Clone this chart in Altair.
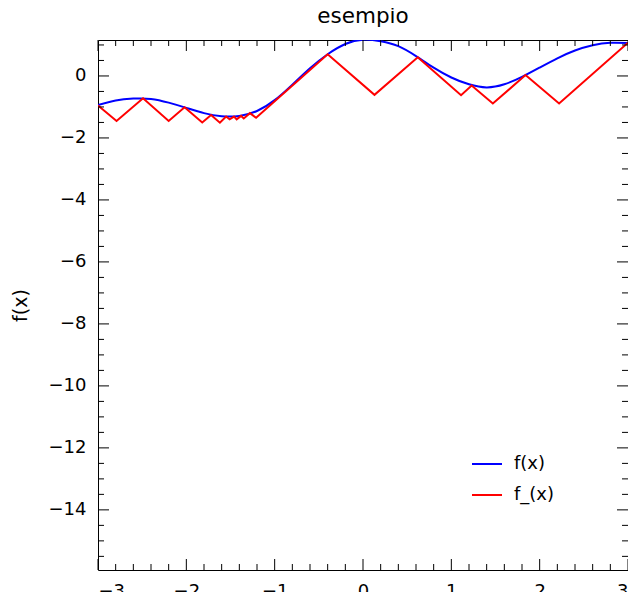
import altair as alt
import pandas as pd

# blue curve f(x)
blue_x = [-3.0, -2.8, -2.6, -2.4, -2.2, -2.0, -1.8, -1.6, -1.4, -1.2, -1.0, -0.8, -0.6,
          -0.4, -0.2, 0.0, 0.2, 0.4, 0.6, 0.8, 1.0, 1.2, 1.4, 1.6, 1.8, 2.0, 2.2, 2.4,
          2.6, 2.8, 3.0]
blue_y = [-0.94, -0.79, -0.73, -0.74, -0.86, -1.03, -1.20, -1.30, -1.29, -1.13, -0.78,
          -0.28, 0.25, 0.70, 1.03, 1.17, 1.12, 0.96, 0.64, 0.27, -0.05, -0.27, -0.37,
          -0.27, -0.03, 0.27, 0.57, 0.82, 0.99, 1.07, 1.06]

# red piecewise-linear f_(x)
red_x = [-3.0, -2.79, -2.49, -2.20, -2.02, -1.82, -1.72, -1.62, -1.55, -1.51, -1.46, -1.43,
         -1.38, -1.35, -1.28, -1.21, -0.40, 0.13, 0.62, 1.11, 1.23, 1.47, 1.84, 2.22, 3.0]
red_y = [-0.95, -1.45, -0.72, -1.45, -1.01, -1.50, -1.26, -1.51, -1.31, -1.40, -1.31, -1.40,
         -1.29, -1.37, -1.20, -1.35, 0.70, -0.61, 0.60, -0.62, -0.31, -0.89, 0.03, -0.89, 1.07]

series_names = ["f(x)", "f_(x)"]
series_colors = ["#0000ff", "#ff0000"]

x_major = [-3, -2, -1, 0, 1, 2, 3]
x_minor = [-2.8, -2.6, -2.4, -2.2, -1.8, -1.6, -1.4, -1.2, -0.8, -0.6, -0.4, -0.2,
           0.2, 0.4, 0.6, 0.8, 1.2, 1.4, 1.6, 1.8, 2.2, 2.4, 2.6, 2.8]
y_major = [-14, -12, -10, -8, -6, -4, -2, 0]
y_minor = [-15.5, -15, -14.5, -13.5, -13, -12.5, -11.5, -11, -10.5, -9.5, -9, -8.5,
           -7.5, -7, -6.5, -5.5, -5, -4.5, -3.5, -3, -2.5, -1.5, -1, -0.5, 0.5, 1.0]

W, H = 530, 530
MAJ, MIN = 11, 6

xs = alt.Scale(domain=[-3, 3], nice=False, zero=False)
ys = alt.Scale(domain=[-15.94, 1.16], nice=False, zero=False)
cs = alt.Scale(domain=series_names, range=series_colors)

x_axis = alt.Axis(values=x_major, title=None, format="d", labelPadding=12)
y_axis = alt.Axis(values=y_major, title="f(x)", format="d", labelPadding=12, titlePadding=18)

legend = alt.Legend(title=None, orient="none", legendX=373, legendY=408,
                    symbolType="stroke", symbolSize=900, symbolStrokeWidth=2,
                    labelFontSize=18, labelFont="DejaVu Sans", labelColor="black",
                    labelOffset=11, rowPadding=6)

df_blue = pd.DataFrame({"x": blue_x, "y": blue_y, "s": series_names[0],
                        "i": list(range(len(blue_x)))})
df_red = pd.DataFrame({"x": red_x, "y": red_y, "s": series_names[1],
                       "i": list(range(len(red_x)))})

blue = alt.Chart(df_blue).mark_line(strokeWidth=2, interpolate="natural", clip=True).encode(
    x=alt.X("x:Q", scale=xs, axis=x_axis),
    y=alt.Y("y:Q", scale=ys, axis=y_axis),
    color=alt.Color("s:N", scale=cs, legend=legend),
    order="i:Q",
)
red = alt.Chart(df_red).mark_line(strokeWidth=2, clip=True).encode(
    x=alt.X("x:Q", scale=xs, axis=x_axis),
    y=alt.Y("y:Q", scale=ys, axis=y_axis),
    color=alt.Color("s:N", scale=cs, legend=legend),
    order="i:Q",
)


def xticks(vals, length):
    d = pd.DataFrame({"x": vals})
    top = alt.Chart(d).mark_rule(color="black", strokeWidth=1).encode(
        x=alt.X("x:Q", scale=xs, axis=x_axis), y=alt.value(0), y2=alt.value(length))
    bot = alt.Chart(d).mark_rule(color="black", strokeWidth=1).encode(
        x=alt.X("x:Q", scale=xs, axis=x_axis), y=alt.value(H), y2=alt.value(H - length))
    return [top, bot]


def yticks(vals, length):
    d = pd.DataFrame({"y": vals})
    left = alt.Chart(d).mark_rule(color="black", strokeWidth=1).encode(
        y=alt.Y("y:Q", scale=ys, axis=y_axis), x=alt.value(0), x2=alt.value(length))
    right = alt.Chart(d).mark_rule(color="black", strokeWidth=1).encode(
        y=alt.Y("y:Q", scale=ys, axis=y_axis), x=alt.value(W), x2=alt.value(W - length))
    return [left, right]


layers = [blue, red] + xticks(x_major, MAJ) + xticks(x_minor, MIN) + \
    yticks(y_major, MAJ) + yticks(y_minor, MIN)

chart = alt.layer(*layers).properties(
    width=W, height=H,
    autosize=alt.AutoSizeParams(type="none"),
    padding={"left": 90, "top": 32, "right": 0, "bottom": 22},
    title=alt.TitleParams("esempio", fontSize=21.5, font="DejaVu Sans", fontWeight="normal",
                          anchor="middle", frame="group", offset=12, color="black"),
).configure_view(
    stroke="black", strokeWidth=1
).configure_axis(
    labelFont="DejaVu Sans", labelFontSize=18, labelColor="black",
    titleFont="DejaVu Sans", titleFontSize=19, titleFontWeight="normal", titleColor="black",
    domain=False, ticks=False, grid=False,
)

chart.save("out.html", embed_options={"renderer": "svg", "actions": False})
